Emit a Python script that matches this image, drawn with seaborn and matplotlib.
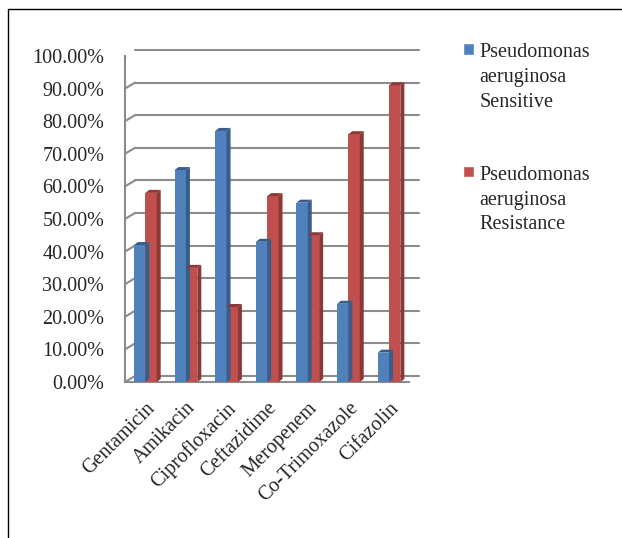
import numpy as np
import pandas as pd
import matplotlib
matplotlib.use("Agg")
import matplotlib.pyplot as plt
import matplotlib.transforms as mtransforms
from matplotlib.patches import Polygon, Patch
from matplotlib.lines import Line2D
import seaborn as sns

# data
drugs = ["Gentamicin", "Amikacin", "Ciprofloxacin", "Ceftazidime",
         "Meropenem", "Co-Trimoxazole", "Cifazolin"]
sensitive = [0.42, 0.65, 0.77, 0.43, 0.55, 0.24, 0.09]
resistance = [0.58, 0.35, 0.23, 0.57, 0.45, 0.76, 0.91]
series = ["Pseudomonas\naeruginosa\nSensitive", "Pseudomonas\naeruginosa\nResistance"]
yticks = [0.0, 0.1, 0.2, 0.3, 0.4, 0.5, 0.6, 0.7, 0.8, 0.9, 1.0]

blue, red = "#4F81BD", "#C0504D"
blue_dark, red_dark = "#385D8A", "#8C3836"
grid_col = "#8C8C8C"
FS = 14.5

df = pd.DataFrame({
    "drug": drugs * 2,
    "value": sensitive + resistance,
    "series": [series[0]] * len(drugs) + [series[1]] * len(drugs),
})

sns.set_style("white")
plt.rcParams["font.family"] = ["Liberation Serif", "DejaVu Serif"]
plt.rcParams["font.size"] = FS

DPI = 100
fig = plt.figure(figsize=(6.22, 5.38), dpi=DPI)
ax = fig.add_axes([0.201, 0.29, 0.457, 0.606])

sns.barplot(data=df, x="drug", y="value", hue="series", palette=[blue, red],
            width=0.56, saturation=1, ax=ax, legend=False, zorder=3, linewidth=0)

ax.set_xlim(-0.5, len(drugs) - 0.5)
ax.set_ylim(0, 1)
ax.set_xlabel("")
ax.set_ylabel("")

# back-wall offset (pixels) for the fake 3D look
bx, by = 10, 6
back = ax.transData + mtransforms.ScaledTranslation(bx / DPI, by / DPI, fig.dpi_scale_trans)
ident = mtransforms.IdentityTransform()
x0, x1 = ax.get_xlim()
for v in yticks:
    ax.plot([x0, x1], [v, v], color=grid_col, lw=1.5, transform=back, zorder=1, clip_on=False)
    p0 = ax.transData.transform((x0, v))
    ax.add_line(Line2D([p0[0], p0[0] + bx], [p0[1], p0[1] + by], color=grid_col, lw=1.5,
                       transform=ident, zorder=1))
pr = ax.transData.transform((x1, 0))
ax.add_line(Line2D([pr[0], pr[0] + bx], [pr[1], pr[1] + by], color=grid_col, lw=1.5,
                   transform=ident, zorder=1))

# side and top faces for the bars
dx, dy = 4, 3
for bar in list(ax.patches):
    fc = bar.get_facecolor()
    dark = blue_dark if fc[2] > fc[0] else red_dark
    x, w, h = bar.get_x(), bar.get_width(), bar.get_height()
    (lx, ly) = ax.transData.transform((x, 0))
    (rx, ty) = ax.transData.transform((x + w, h))
    side = [(rx, ly), (rx + dx, ly + dy), (rx + dx, ty + dy), (rx, ty)]
    top = [(lx, ty), (lx + dx, ty + dy), (rx + dx, ty + dy), (rx, ty)]
    ax.add_patch(Polygon(side, closed=True, facecolor=dark, edgecolor="none",
                         transform=ident, zorder=3))
    ax.add_patch(Polygon(top, closed=True, facecolor=dark, edgecolor="none",
                         transform=ident, zorder=3))

# axes
sns.despine(ax=ax, top=True, right=True)
for s in ["left", "bottom"]:
    ax.spines[s].set_color(grid_col)
    ax.spines[s].set_linewidth(1.5)
ax.set_yticks(yticks)
ax.set_yticklabels([f"{v * 100:.2f}%" for v in yticks])
ax.tick_params(axis="y", length=8, width=1.5, color=grid_col, pad=7, labelsize=FS)
ax.set_xticks(range(len(drugs)))
ax.set_xticklabels(drugs, rotation=45, ha="right", va="top", rotation_mode="anchor")
ax.tick_params(axis="x", which="major", length=0, pad=12, labelsize=FS)
ax.set_xticks(np.arange(-0.5, len(drugs)), minor=True)
ax.tick_params(axis="x", which="minor", length=6, width=1.5, color=grid_col)

# legend
handles = [Patch(facecolor=blue), Patch(facecolor=red)]
leg = fig.legend(handles, series, loc="upper left", bbox_to_anchor=(0.716, 0.953),
                 frameon=False, fontsize=FS, labelspacing=2.7, handlelength=0.5,
                 handleheight=0.5, handletextpad=0.3)
for t in leg.get_texts():
    t.set_linespacing(1.4)
for col in leg._legend_handle_box.get_children():
    for item in col.get_children():
        item.align = "top"

# chart area frame (left and top edges only)
fig.add_artist(Line2D([0.013, 0.013], [0.0, 0.983], color="black", lw=1))
fig.add_artist(Line2D([0.013, 1.0], [0.983, 0.983], color="black", lw=1))

fig.savefig("out.png", dpi=DPI)
